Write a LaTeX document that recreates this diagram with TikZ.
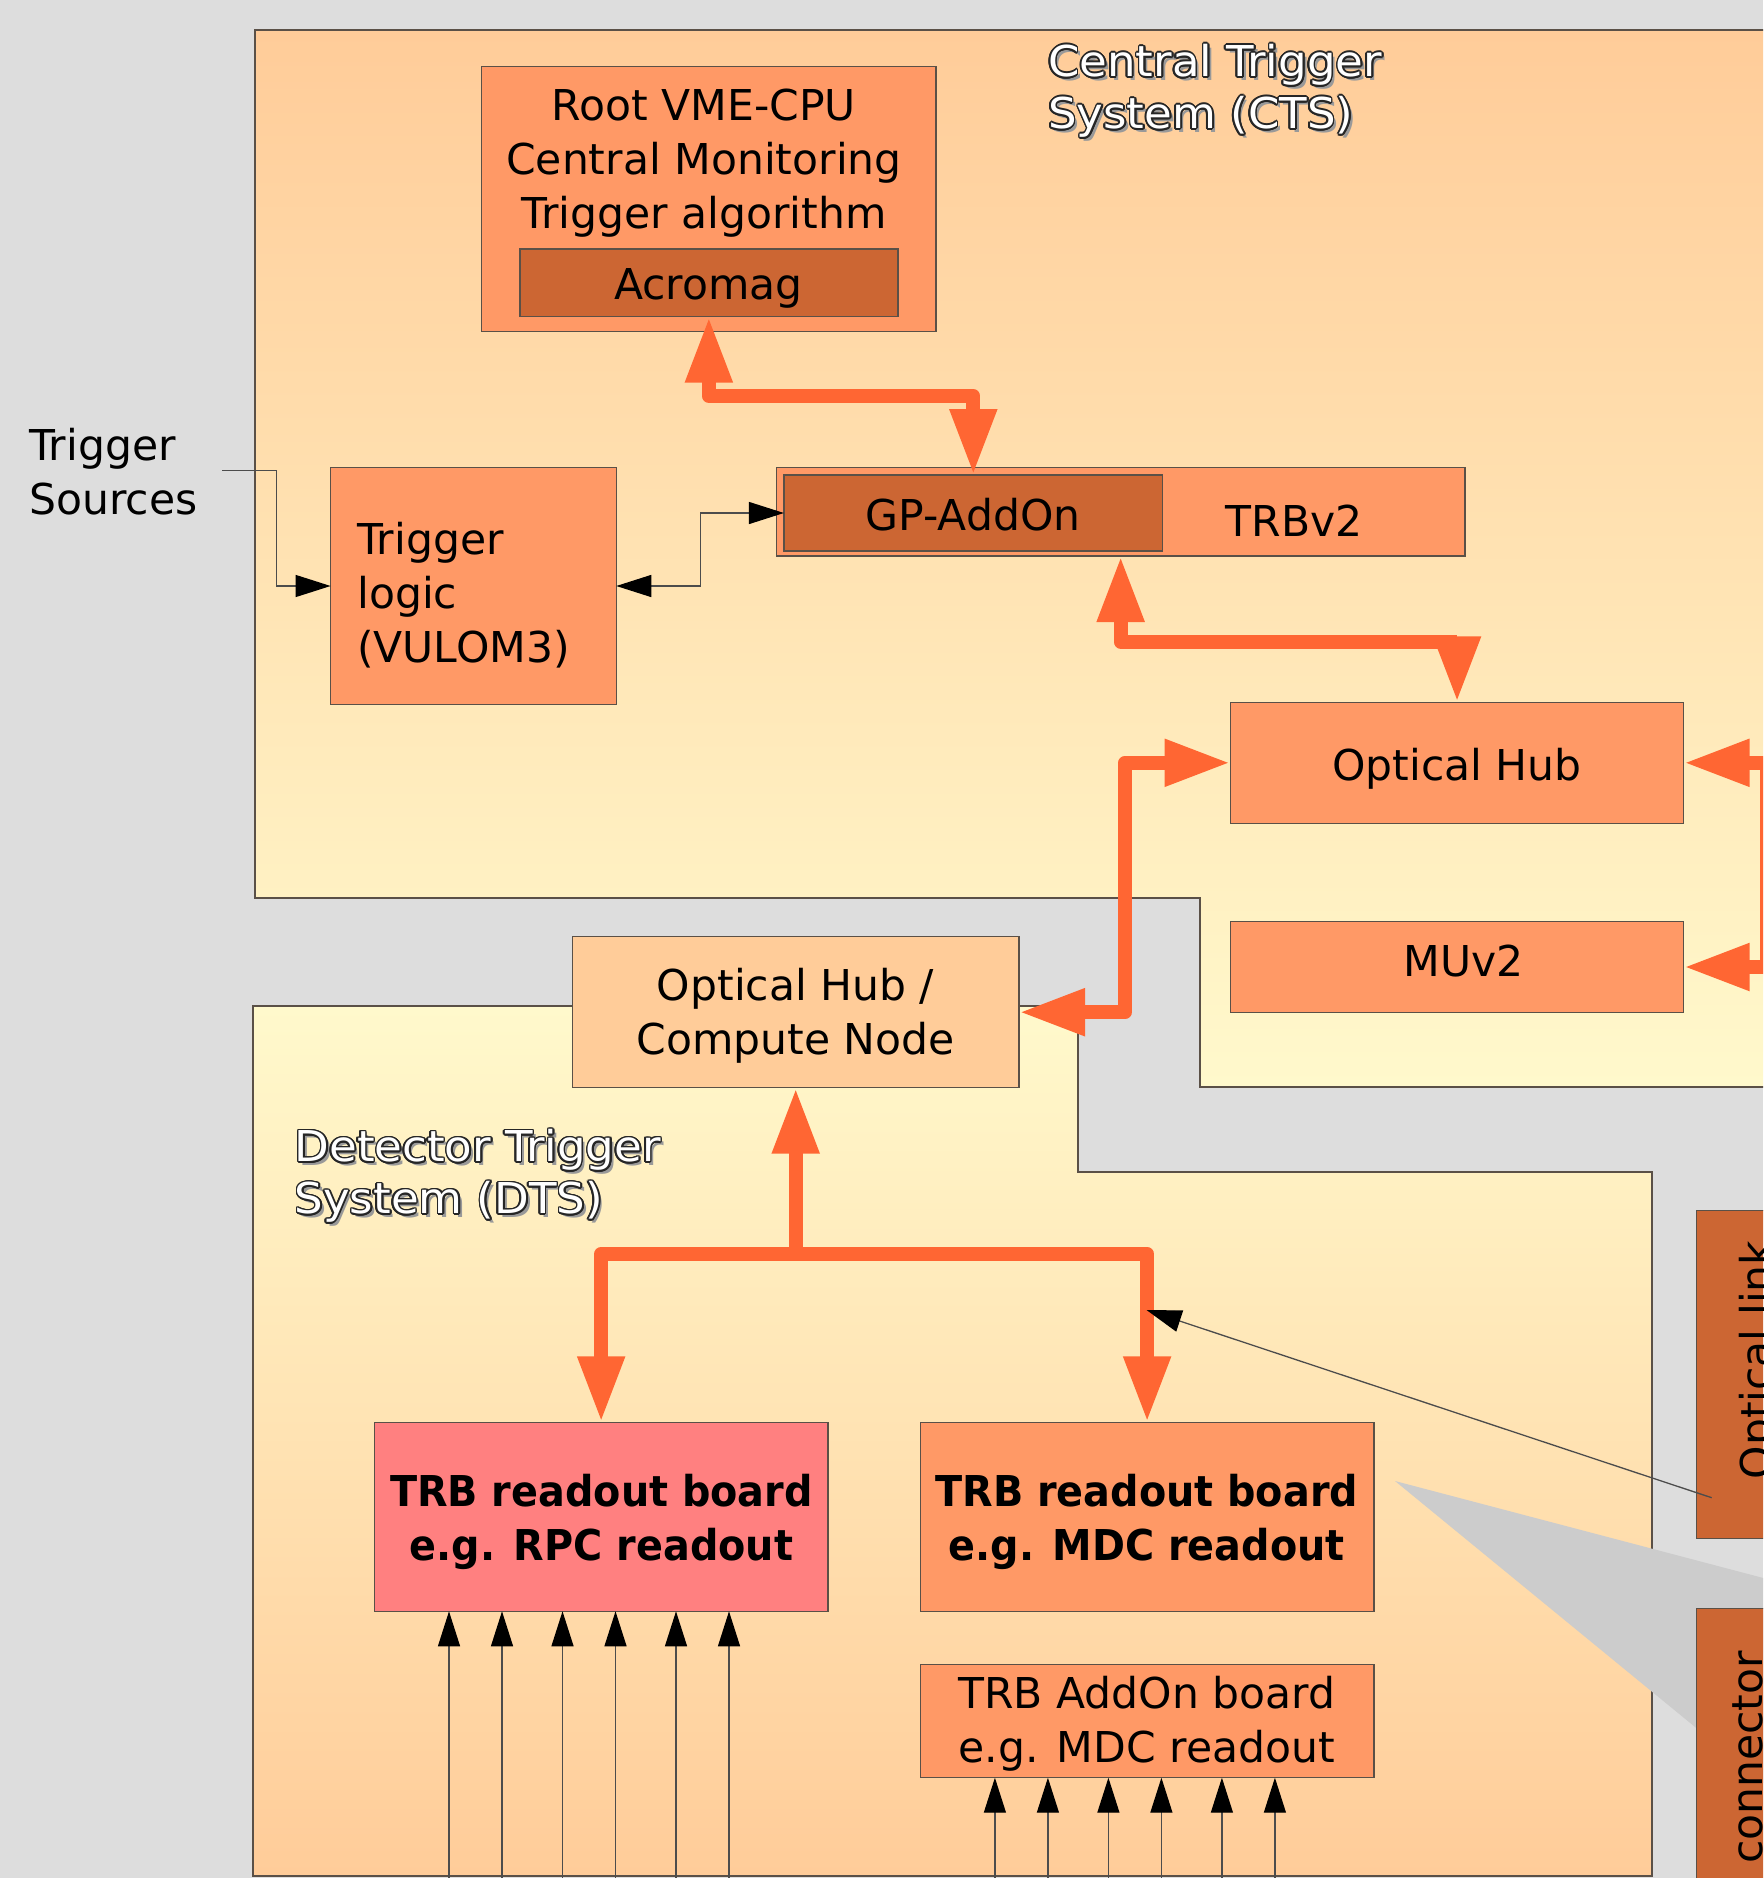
\documentclass[tikz,border=0pt]{standalone}
\usepackage{fontspec}
\setmainfont{DejaVu Sans}
\usetikzlibrary{arrows.meta,calc,positioning}

\definecolor{bggray}{HTML}{DDDDDD}
\definecolor{ctstop}{HTML}{FFCC99}
\definecolor{ctsbottom}{HTML}{FFF9CC}
\definecolor{boxorange}{HTML}{FF9966}
\definecolor{boxdark}{HTML}{CC6633}
\definecolor{boxpink}{HTML}{FF8080}
\definecolor{boxpeach}{HTML}{FFCC99}
\definecolor{linkorange}{HTML}{FF6633}
\definecolor{wedgegray}{HTML}{CCCCCC}
\definecolor{edgegray}{HTML}{5A5047}

\newcommand\boxlines[2]{\begin{tabular}[t]{@{}#1@{}}#2\end{tabular}}
% white title text with dark rim and drop shadow
\newcommand\outlined[3]{%
  \node[titletxt, text=black!40] at ($(#2)+(3.5,3.5)$) {\boxlines{l}{#3}};
  \foreach \ang in {0,22.5,...,337.5}
    \node[titletxt, text=black!85] at ($(#2)+(\ang:1.7)$) {\boxlines{l}{#3}};
  \node[titletxt, text=white] (#1) at (#2) {\boxlines{l}{#3}};
}

\tikzset{
  thintip/.tip={Triangle[length=35pt,width=22pt,color=black]},
  bigtip/.tip={Triangle[length=66pt,width=44pt]},
  box/.style={draw=edgegray, line width=1.5pt, fill=boxorange, inner sep=0pt, outer sep=0pt},
  darkbox/.style={box, fill=boxdark},
  txt/.style={anchor=base, inner sep=0pt},
  boldtxt/.style={txt, xscale=0.935, font=\fontsize{42.5}{54}\selectfont\bfseries},
  titletxt/.style={anchor=base west, inner sep=0pt, xscale=1.06, font=\fontsize{42.5}{52}\selectfont},
  signal/.style={draw=black!70, line width=1.3pt},
  link/.style={draw=linkorange, line width=14pt, line join=round},
}

\begin{document}
\begin{tikzpicture}[x=1pt, y=-1pt, every node/.style={font=\fontsize{42.5}{54}\selectfont}]
\useasboundingbox (0,0) rectangle (1763,1878);
\clip (0,0) rectangle (1763,1878);
\fill[bggray] (0,0) rectangle (1763,1878);

% system areas
\path[draw=edgegray, line width=1.5pt, top color=ctstop, bottom color=ctsbottom]
  (255,30) -- (1790,30) -- (1790,1087) -- (1200,1087) -- (1200,898) -- (255,898) -- cycle;
\path[draw=edgegray, line width=1.5pt, top color=ctsbottom, bottom color=ctstop]
  (253,1006) -- (1078,1006) -- (1078,1172) -- (1652,1172) -- (1652,1876) -- (253,1876) -- cycle;
\fill[wedgegray] (1395,1481) -- (1900,1614) -- (1900,1895) -- cycle;

% titles
\outlined{ctstitle}{1048,76.7}{Central Trigger\\System (CTS)}
\outlined{dtstitle}{294.5,1161.7}{Detector Trigger\\System (DTS)}

% CTS boxes
\node[box, minimum width=454.2, minimum height=265] (root) at (708.7,199.2) {};
\node[darkbox, minimum width=378.1, minimum height=67.7] (acro) at (708.85,282.85) {};
\node[box, minimum width=285.7, minimum height=236.6] (tlogic) at (473.45,586) {};
\node[box, minimum width=688.3, minimum height=88.3] (trb) at (1120.65,511.85) {};
\node[darkbox, minimum width=378.8, minimum height=76] (gp) at (973.3,513) {};
\node[box, minimum width=453.1, minimum height=121] (ohub) at (1457.05,762.8) {};
\node[box, minimum width=453.1, minimum height=90.6] (muv2) at (1457.05,967) {};

% DTS boxes
\node[box, fill=boxpeach, minimum width=446.6, minimum height=151] (cnode) at (795.7,1012.2) {};
\node[box, fill=boxpink, minimum width=453.3, minimum height=189] (rpc) at (601.15,1516.8) {};
\node[box, minimum width=453.4, minimum height=189] (mdc) at (1147.1,1516.8) {};
\node[box, minimum width=453.4, minimum height=113.4] (addon) at (1147.1,1721) {};

% board detail
\node[darkbox, minimum width=125, minimum height=328] (olink) at (1759.2,1374.3) {};
\node[darkbox, minimum width=125, minimum height=298.4] (conn) at (1759.2,1757.5) {};

% texts
\node[txt] (roottxt) at (704,121) {\boxlines{c}{Root VME-CPU\\Central Monitoring\\Trigger algorithm}};
\node[txt] (acrotxt) at (708.5,299) {Acromag};
\node[txt, anchor=base west] (srctxt) at (29,460) {\boxlines{l}{Trigger\\Sources}};
\node[txt, anchor=base west] (tlogictxt) at (357,554) {\boxlines{l}{Trigger\\logic\\(VULOM3)}};
\node[txt] (gptxt) at (973,530) {GP-AddOn};
\node[txt] (trbtxt) at (1294,536) {TRBv2};
\node[txt] (ohubtxt) at (1457,780.7) {Optical Hub};
\node[txt] (muv2txt) at (1463.6,976.7) {MUv2};
\node[txt] (cnodetxt) at (795.6,1000) {\boxlines{c}{Optical Hub /\\Compute Node}};
\node[boldtxt] (rpctxt) at (601.5,1506) {\boxlines{c}{TRB readout board\\e.g. RPC readout}};
\node[boldtxt] (mdctxt) at (1146.8,1506) {\boxlines{c}{TRB readout board\\e.g. MDC readout}};
\node[txt] (addontxt) at (1146.8,1708) {\boxlines{c}{TRB AddOn board\\e.g. MDC readout}};
\node[txt, rotate=90] (olinktxt) at (1771,1360) {Optical link};
\node[txt, rotate=90] (conntxt) at (1762,1757.5) {connector};

% optical links
\draw[link, bigtip-bigtip] (acro.south) -- ++(0,79.3) -| (gp.north);
\draw[link, bigtip-bigtip] (trb.south) -- ++(0,85.7) -| (ohub.north);
\draw[link, bigtip-bigtip] (ohub.west) -- ++(-105.5,0) |- (cnode.east);
\draw[link, bigtip-bigtip] (ohub.east) -- ++(83.4,0) |- (muv2.east);
\coordinate (fork) at ($(cnode.south)+(0,166.3)$);
\draw[link, bigtip-bigtip] (cnode.south) -- (fork) -| (rpc.north);
\draw[link, -bigtip] (fork) -| (mdc.north);

% signal lines
\coordinate (srcpt) at (222.4,470.7);
\draw[signal, -thintip] (srcpt) -- ++(54.1,0) |- (tlogic.west);
\draw[signal, thintip-thintip] (tlogic.east) -- ++(84,0) |- (gp.west);
\coordinate (tap) at (1146.5,1310);
\draw[signal, -thintip] ([shift={(15,-40.6)}]olink.south west) -- (tap);
\foreach \dx in {74.5,127.5,188,241,301.5,354.5} {
  \draw[signal, thintip-] ([xshift=\dx]rpc.south west) -- ++(0,270);
  \draw[signal, thintip-] ([xshift=\dx]addon.south west) -- ++(0,105);
}
\end{tikzpicture}
\end{document}
